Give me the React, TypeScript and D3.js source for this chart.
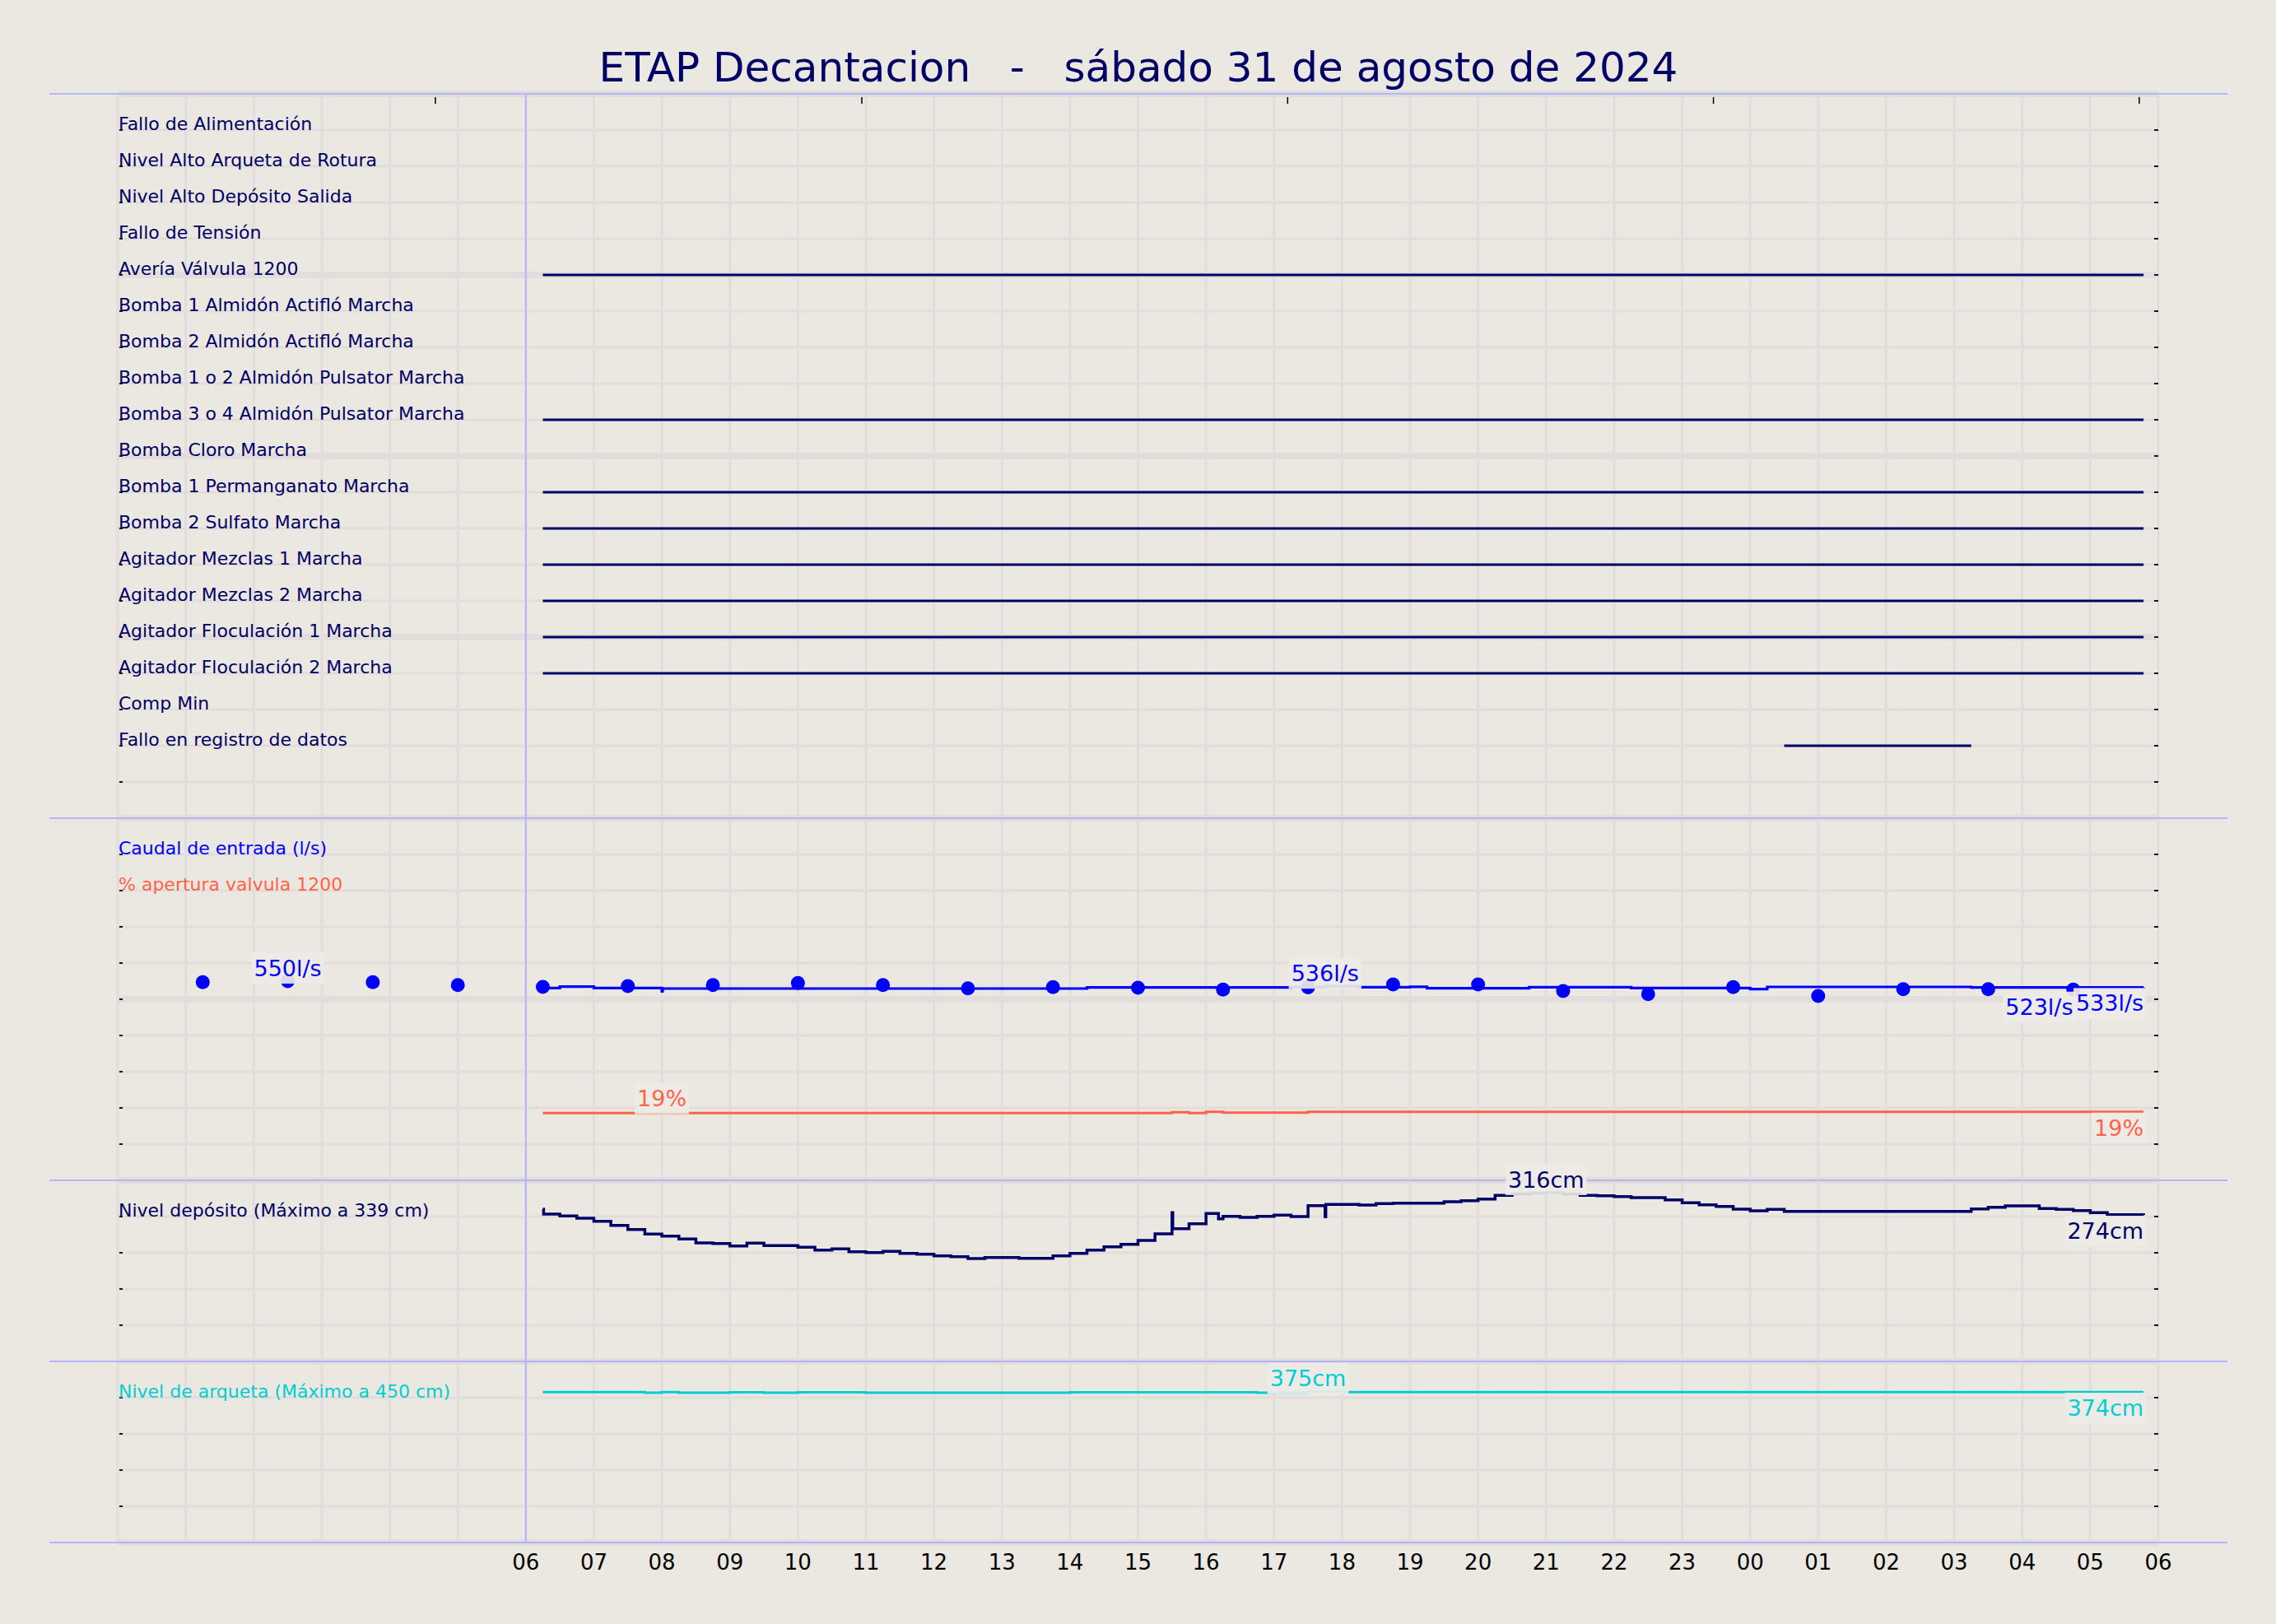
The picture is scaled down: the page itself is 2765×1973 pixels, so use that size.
import React from 'react';
import * as d3 from 'd3';

// ---------- DATA ----------
const TITLE = 'ETAP Decantacion   -   sábado 31 de agosto de 2024';

const eventLabels = [
  'Fallo de Alimentación',
  'Nivel Alto Arqueta de Rotura',
  'Nivel Alto Depósito Salida',
  'Fallo de Tensión',
  'Avería Válvula 1200',
  'Bomba 1 Almidón Actifló Marcha',
  'Bomba 2 Almidón Actifló Marcha',
  'Bomba 1 o 2 Almidón Pulsator Marcha',
  'Bomba 3 o 4 Almidón Pulsator Marcha',
  'Bomba Cloro Marcha',
  'Bomba 1 Permanganato Marcha',
  'Bomba 2 Sulfato Marcha',
  'Agitador Mezclas 1 Marcha',
  'Agitador Mezclas 2 Marcha',
  'Agitador Floculación 1 Marcha',
  'Agitador Floculación 2 Marcha',
  'Comp Min',
  'Fallo en registro de datos',
];

// active intervals: row label, start, end
const eventRow = [
  'Avería Válvula 1200',
  'Bomba 3 o 4 Almidón Pulsator Marcha',
  'Bomba 1 Permanganato Marcha',
  'Bomba 2 Sulfato Marcha',
  'Agitador Mezclas 1 Marcha',
  'Agitador Mezclas 2 Marcha',
  'Agitador Floculación 1 Marcha',
  'Agitador Floculación 2 Marcha',
  'Fallo en registro de datos',
];
const eventStart = ['31 06:15', '31 06:15', '31 06:15', '31 06:15', '31 06:15', '31 06:15', '31 06:15', '31 06:15', '01 00:30'];
const eventEnd = ['01 05:47', '01 05:47', '01 05:47', '01 05:47', '01 05:47', '01 05:47', '01 05:47', '01 05:47', '01 03:15'];

// Caudal de entrada (l/s) - line
const flowTimes = ['31 06:15', '31 06:30', '31 07:00', '31 08:00', '31 08:00:40', '31 14:15', '31 17:15', '31 17:45', '31 18:15', '31 19:00', '31 19:15', '31 20:45', '31 22:15', '01 00:00', '01 00:15', '01 03:15', '01 05:47'];
const flowValues = [531, 535, 531, 522, 529.5, 532.6, 534, 536, 533.4, 534.5, 530.5, 533.4, 531.1, 528, 534.1, 532.5, 533];

// Caudal de entrada - dots
const dotTimes = ['31 01:15', '31 02:30', '31 03:45', '31 05:00', '31 06:15', '31 07:30', '31 08:45', '31 10:00', '31 11:15', '31 12:30', '31 13:45', '31 15:00', '31 16:15', '31 17:30', '31 18:45', '31 20:00', '31 21:15', '31 22:30', '31 23:45', '01 01:00', '01 02:15', '01 03:30', '01 04:45'];
const dotValues = [547, 550, 547, 539.4, 534, 536.4, 539.4, 544.7, 539.4, 530.3, 533.3, 531.8, 526.5, 533, 540.9, 540.9, 522.7, 514.4, 533.3, 509.1, 528, 528, 526.5];

// % apertura valvula 1200
const valveTimes = ['31 06:15', '31 15:30', '31 15:45', '31 16:00', '31 16:15', '31 17:30', '01 05:47'];
const valveValues = [18.6, 18.8, 18.6, 18.9, 18.7, 18.9, 18.9];

// Nivel depósito (cm)
const depTimes = ['31 06:15', '31 06:15:40', '31 06:30', '31 06:45', '31 07:00', '31 07:15', '31 07:30', '31 07:45', '31 08:00', '31 08:15', '31 08:30', '31 08:45', '31 09:00', '31 09:15', '31 09:30', '31 10:00', '31 10:15', '31 10:30', '31 10:45', '31 11:00', '31 11:15', '31 11:30', '31 11:45', '31 12:00', '31 12:15', '31 12:30', '31 12:45', '31 13:15', '31 13:45', '31 14:00', '31 14:15', '31 14:30', '31 14:45', '31 15:00', '31 15:15', '31 15:30', '31 15:30:40', '31 15:45', '31 16:00', '31 16:11', '31 16:15', '31 16:30', '31 16:45', '31 17:00', '31 17:15', '31 17:30', '31 17:45', '31 17:45:40', '31 18:15', '31 18:30', '31 18:45', '31 19:30', '31 19:45', '31 20:00', '31 20:15', '31 20:30', '31 20:45', '31 21:00', '31 21:15', '31 21:30', '31 21:45', '31 22:00', '31 22:15', '31 22:45', '31 23:00', '31 23:15', '31 23:30', '31 23:45', '01 00:00', '01 00:15', '01 00:30', '01 03:15', '01 03:30', '01 03:45', '01 04:15', '01 04:30', '01 04:45', '01 05:00', '01 05:15', '01 05:47'];
const depValues = [285, 275.8, 272.2, 268.1, 262.4, 254.7, 247.0, 238.4, 234.7, 229.1, 221.9, 220.8, 216.2, 221.4, 216.8, 213.7, 208.5, 210.6, 205.4, 203.9, 206.0, 202.3, 200.8, 197.7, 196.2, 192.6, 194.6, 193.1, 197.7, 202.3, 208.5, 214.6, 219.3, 226.5, 238.8, 278.4, 248.6, 257.8, 276.9, 267.1, 271.7, 269.7, 271.7, 273.8, 271.2, 291.7, 271, 293.8, 292.8, 295.4, 296.4, 298.9, 301.0, 304.1, 311, 314, 315, 316, 314, 311, 310.3, 308.7, 306.6, 302.5, 296.9, 293.3, 290.2, 285.1, 282.0, 284.6, 281.0, 285.6, 288.7, 291.2, 286.1, 284.6, 282.5, 278.4, 274.8, 274];

// Nivel de arqueta (cm)
const arqTimes = ['31 06:15', '31 07:45', '31 08:00', '31 08:15', '31 09:00', '31 09:30', '31 10:00', '31 11:00', '31 14:00', '31 16:45', '31 17:30', '31 18:00', '01 05:47'];
const arqValues = [374, 372.5, 374, 372.5, 373.5, 372.5, 373.5, 372.5, 373.5, 372.5, 375, 374, 374];

// value annotations
const annText = ['550l/s', '536l/s', '523l/s', '533l/s', '19%', '19%', '316cm', '274cm', '375cm', '374cm'];
const annTime = ['31 02:30', '31 17:45', '01 04:15', '01 05:47', '31 08:00', '01 05:47', '31 21:00', '01 05:47', '31 17:30', '01 05:47'];
const annValue = [550, 536, 523, 533, 19, 18.9, 316, 274, 375, 374];
const annSeries = ['flow', 'flow', 'flow', 'flow', 'valve', 'valve', 'dep', 'dep', 'arq', 'arq'];
const annPos = ['above', 'above', 'below', 'end', 'above', 'end', 'above', 'end', 'above', 'end'];

// top axis ticks (hours from 31 00:00)
const topTickHours = [4.67, 10.94, 17.2, 23.46, 29.72];

// ---------- STYLE ----------
const W = 2765, H = 1973;
const BG = '#ebe7e1';
const GRID = '#e2dddc';
const SEP = '#b4b4ff';
const NAVY = '#000066';
const BLUE = '#0000ff';
const TOMATO = '#ff6347';
const CYAN = '#00ced1';
const FONT = '"DejaVu Sans", sans-serif';

const parseT = (s: string) => {
  const [d, t] = s.split(' ');
  const [hh, mm, ss] = t.split(':');
  return d === '31'
    ? new Date(2024, 7, 31, +hh, +mm, +(ss || 0))
    : new Date(2024, 8, 1, +hh, +mm, +(ss || 0));
};

let _ctx: CanvasRenderingContext2D | null = null;
const measure = (text: string, size: number) => {
  if (!_ctx) _ctx = document.createElement('canvas').getContext('2d');
  if (!_ctx) return text.length * size * 0.6;
  _ctx.font = `${size}px "DejaVu Sans"`;
  return _ctx.measureText(text).width;
};

export default function App() {
  const t0 = new Date(2024, 7, 31, 0, 0);
  const t1 = new Date(2024, 8, 1, 6, 0);
  const x = d3.scaleTime().domain([t0, t1]).range([143, 2622]);

  const P1 = [114, 994], P2 = [994, 1434], P3 = [1434, 1654], P4 = [1654, 1874];
  const yRow = d3.scaleLinear().domain([0, 20]).range([P1[0], P1[1]]);
  const yFlow = d3.scaleLinear().domain([0, 1000]).range([P2[1], P2[0]]);
  const yValve = d3.scaleLinear().domain([0, 100]).range([P2[1], P2[0]]);
  const yDep = d3.scaleLinear().domain([0, 339]).range([P3[1], P3[0]]);
  const yArq = d3.scaleLinear().domain([0, 450]).range([P4[1], P4[0]]);
  const yScales: Record<string, d3.ScaleLinear<number, number>> = { flow: yFlow, valve: yValve, dep: yDep, arq: yArq };
  const colors: Record<string, string> = { flow: BLUE, valve: TOMATO, dep: NAVY, arq: CYAN };

  const gridY = d3.range(0, 41).map((i) => P1[0] + i * 44);
  const hourTicks = d3.timeHour.range(t0, new Date(t1.getTime() + 1));
  const labelTicks = hourTicks.filter((d) => d >= new Date(2024, 7, 31, 6, 0));

  const mk = (times: string[], vals: number[]) => times.map((t, i) => ({ t: parseT(t), v: vals[i] }));
  const lineFor = (y: d3.ScaleLinear<number, number>) =>
    d3.line<{ t: Date; v: number }>().x((d) => x(d.t)).y((d) => y(d.v)).curve(d3.curveStepAfter);

  const flow = mk(flowTimes, flowValues);
  const dots = mk(dotTimes, dotValues);
  const valve = mk(valveTimes, valveValues);
  const dep = mk(depTimes, depValues);
  const arq = mk(arqTimes, arqValues);

  const LFS = 22; // label font
  const VFS = 27; // value font
  const PAD = 3;

  const panelLabels = [
    { text: 'Caudal de entrada (l/s)', color: BLUE, base: P2[0] + 44 },
    { text: '% apertura valvula 1200', color: TOMATO, base: P2[0] + 88 },
    { text: 'Nivel depósito (Máximo a 339 cm)', color: NAVY, base: P3[0] + 44 },
    { text: 'Nivel de arqueta (Máximo a 450 cm)', color: CYAN, base: P4[0] + 44 },
  ];

  return (
    <svg width={W} height={H} style={{ position: 'absolute', left: 0, top: 0, fontFamily: FONT }}>
      <rect x={0} y={0} width={W} height={H} fill={BG} />

      {/* vertical grid */}
      {hourTicks.map((d, i) => (
        <line key={'vg' + i} x1={x(d)} x2={x(d)} y1={P1[0] + 2} y2={P4[1]} stroke={GRID} strokeWidth={3} />
      ))}
      {/* horizontal grid */}
      {gridY.map((y, i) => (
        <line key={'hg' + i} x1={143} x2={2622} y1={y} y2={y} stroke={GRID} strokeWidth={i % 5 === 0 ? 8 : 3} />
      ))}

      {/* left/right ticks */}
      {gridY.map((y, i) => (
        <g key={'tk' + i}>
          <line x1={145} x2={149} y1={y} y2={y} stroke="#000" strokeWidth={1.8} />
          <line x1={2617} x2={2622} y1={y} y2={y} stroke="#000" strokeWidth={1.8} />
        </g>
      ))}
      {/* top ticks */}
      {topTickHours.map((h, i) => {
        const xx = x(new Date(t0.getTime() + h * 3600e3));
        return <line key={'tt' + i} x1={xx} x2={xx} y1={118} y2={126} stroke="#000" strokeWidth={1.5} />;
      })}

      {/* separators */}
      {[P1[0], P2[0], P3[0], P4[0], P4[1]].map((y, i) => (
        <line key={'sep' + i} x1={60} x2={2706} y1={y} y2={y} stroke={SEP} strokeWidth={2} />
      ))}
      <line x1={x(new Date(2024, 7, 31, 6))} x2={x(new Date(2024, 7, 31, 6))} y1={P1[0]} y2={P4[1]} stroke={SEP} strokeWidth={2} />

      {/* title */}
      <text x={1383} y={99} textAnchor="middle" fontSize={50} fill={NAVY} style={{ whiteSpace: 'pre' }}>
        {TITLE}
      </text>

      {/* event labels */}
      {eventLabels.map((l, i) => (
        <text key={'el' + i} x={144} y={yRow(i + 1) - 0.5} fontSize={LFS} fill={NAVY}>
          {l}
        </text>
      ))}
      {/* event lines */}
      {eventRow.map((r, i) => {
        const yy = yRow(eventLabels.indexOf(r) + 1);
        return (
          <line key={'ev' + i} x1={x(parseT(eventStart[i]))} x2={x(parseT(eventEnd[i]))} y1={yy} y2={yy} stroke={NAVY} strokeWidth={3} />
        );
      })}

      {/* panel labels */}
      {panelLabels.map((p, i) => (
        <text key={'pl' + i} x={144} y={p.base - 0.5} fontSize={LFS} fill={p.color}>
          {p.text}
        </text>
      ))}

      {/* series */}
      <path d={lineFor(yFlow)(flow) || ''} fill="none" stroke={BLUE} strokeWidth={3.2} />
      <path d={lineFor(yValve)(valve) || ''} fill="none" stroke={TOMATO} strokeWidth={3} />
      <path d={lineFor(yDep)(dep) || ''} fill="none" stroke={NAVY} strokeWidth={3.5} />
      <path d={lineFor(yArq)(arq) || ''} fill="none" stroke={CYAN} strokeWidth={3} />
      {dots.map((d, i) => (
        <circle key={'dt' + i} cx={x(d.t)} cy={yFlow(d.v)} r={8.5} fill={BLUE} />
      ))}

      {/* value annotations */}
      {annText.map((txt, i) => {
        const y = yScales[annSeries[i]](annValue[i]);
        const xx = x(parseT(annTime[i]));
        const w = measure(txt, VFS);
        const pos = annPos[i];
        const above = pos === 'above';
        const x0 = pos === 'end' ? xx - w : xx - w / 2;
        const base = above ? y - VFS * 0.236 : y + 29;
        const top = base - VFS * 0.93 - PAD;
        const bottom = base + VFS * 0.236 + PAD;
        return (
          <g key={'an' + i}>
            <rect x={x0 - PAD} y={top} width={w + 2 * PAD} height={bottom - top} fill="#eeebe7" fillOpacity={0.92} />
            <text x={x0} y={base} fontSize={VFS} fill={colors[annSeries[i]]}>
              {txt}
            </text>
          </g>
        );
      })}

      {/* bottom axis labels */}
      {labelTicks.map((d, i) => (
        <text key={'xl' + i} x={x(d)} y={1907} textAnchor="middle" fontSize={26} fill="#000">
          {d3.timeFormat('%H')(d)}
        </text>
      ))}
    </svg>
  );
}
